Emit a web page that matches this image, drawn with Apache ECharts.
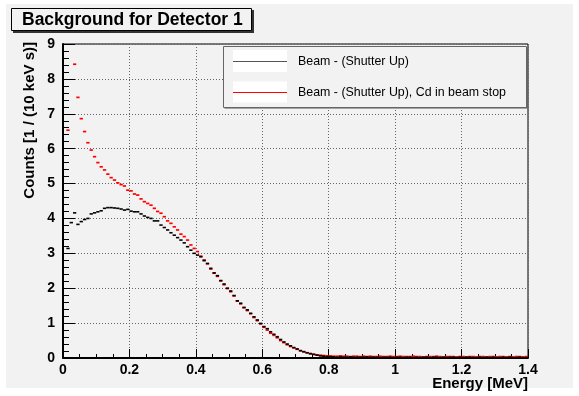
<!DOCTYPE html>
<html><head><meta charset="utf-8">
<script src="https://cdn.jsdelivr.net/npm/echarts@6/dist/echarts.min.js"></script>
<style>html,body{margin:0;padding:0;background:#fff;}#c{width:579px;height:396px;}</style>
</head><body><div id="c"></div>
<script>
// Bin width 10 keV, bins 0..139 covering 0 - 1.4 MeV
var binWidth = 0.01;
var xTicks = ["0","0.2","0.4","0.6","0.8","1","1.2","1.4"];
var yTicks = ["0","1","2","3","4","5","6","7","8","9"];
var seriesNames = ["Beam - (Shutter Up)", "Beam - (Shutter Up), Cd in beam stop"];

var shutterUp = [
 null,3.14,3.88,4.16,3.83,3.91,3.97,4.00,4.13,4.16,
 4.19,4.22,4.29,4.31,4.31,4.30,4.29,4.27,4.24,4.26,
 4.21,4.19,4.19,4.13,4.07,4.03,4.00,3.93,3.93,3.81,
 3.74,3.67,3.59,3.52,3.45,3.38,3.30,3.19,3.09,3.00,
 2.95,2.90,2.79,2.71,2.57,2.44,2.36,2.22,2.12,2.00,
 1.92,1.79,1.64,1.57,1.45,1.38,1.28,1.18,1.09,0.99,
 0.90,0.84,0.75,0.68,0.61,0.53,0.46,0.40,0.35,0.30,
 0.26,0.21,0.18,0.15,0.12,0.10,0.08,0.06,0.05,0.04,
 0.03,0.03,0.02,0.03,0.02,0.02,0.03,0.02,0.02,0.02,
 0.02,0.03,0.02,0.02,0.02,0.01,0.02,0.02,0.02,0.01,
 0.02,0.02,0.01,0.02,0.02,0.01,0.02,0.01,0.02,0.02,
 0.01,0.02,0.02,0.01,0.02,0.01,0.02,0.02,0.01,0.02,
 0.01,0.02,0.02,0.01,0.01,0.02,0.01,0.02,0.01,0.02,
 0.01,0.01,0.02,0.01,0.02,0.01,0.01,0.02,0.01,0.01
];
var shutterUpCd = [
 null,6.53,null,8.42,7.47,6.86,6.49,6.17,5.96,5.77,
 5.60,5.48,5.39,5.27,5.17,5.10,5.02,4.97,4.93,4.81,
 4.79,4.70,4.67,4.56,4.48,4.43,4.38,4.29,4.20,4.15,
 4.05,3.93,3.86,3.76,3.67,3.55,3.48,3.38,3.24,3.14,
 3.05,2.92,2.81,2.70,2.55,2.43,2.34,2.21,2.10,1.99,
 1.90,1.78,1.63,1.55,1.44,1.36,1.27,1.16,1.07,0.98,
 0.88,0.80,0.71,0.65,0.58,0.50,0.44,0.38,0.33,0.29,
 0.25,0.21,0.18,0.15,0.13,0.11,0.09,0.08,0.07,0.06,
 0.06,0.05,0.05,0.06,0.05,0.05,0.04,0.05,0.05,0.04,
 0.05,0.04,0.05,0.04,0.04,0.05,0.04,0.04,0.05,0.04,
 0.04,0.05,0.04,0.04,0.04,0.05,0.04,0.04,0.03,0.04,
 0.04,0.04,0.05,0.04,0.03,0.04,0.04,0.04,0.03,0.04,
 0.04,0.03,0.04,0.04,0.03,0.04,0.04,0.03,0.04,0.04,
 0.03,0.04,0.04,0.03,0.04,0.03,0.04,0.04,0.03,0.04
];

function toPoints(arr){
  var out = [];
  for (var i = 0; i < arr.length; i++) {
    if (arr[i] !== null) out.push([(i + 0.5) * binWidth, arr[i]]);
  }
  return out;
}

var FONT = "'Liberation Sans', Arial, Helvetica, sans-serif";
var BG = '#f2f2f2';
var chart = echarts.init(document.getElementById('c'), null, {renderer:'canvas'});
chart.setOption({
  backgroundColor: '#ffffff',
  animation: false,
  grid: {left: 63, right: 51, top: 44, bottom: 38, show: true, borderColor: '#000', borderWidth: 1, backgroundColor: 'transparent'},
  xAxis: {
    type: 'value', min: 0, max: 1.4, interval: 0.2,
    axisLine: {show: true, lineStyle: {color: '#000', width: 2}},
    axisTick: {show: true, inside: true, length: 9, lineStyle: {color: '#000', width: 1}},
    minorTick: {show: true, splitNumber: 4, length: 4, lineStyle: {color: '#000', width: 1}},
    splitLine: {show: true, lineStyle: {color: '#666', type: [1, 2], width: 1}},
    axisLabel: {color: '#000', fontFamily: FONT, fontWeight: 'bold', fontSize: 14, margin: 5,
      formatter: function(v){ return xTicks[Math.round(v / 0.2)]; }}
  },
  yAxis: {
    type: 'value', min: 0, max: 9, interval: 1,
    axisLine: {show: true, lineStyle: {color: '#000', width: 2}},
    axisTick: {show: true, inside: true, length: 12, lineStyle: {color: '#000', width: 1}},
    minorTick: {show: true, splitNumber: 5, length: 6, lineStyle: {color: '#000', width: 1}},
    splitLine: {show: true, lineStyle: {color: '#666', type: [1, 2], width: 1}},
    axisLabel: {color: '#000', fontFamily: FONT, fontWeight: 'bold', fontSize: 14, margin: 8,
      formatter: function(v){ return yTicks[Math.round(v)]; }}
  },
  series: [
    {name: seriesNames[1], type: 'scatter', data: toPoints(shutterUpCd), symbol: 'rect', symbolSize: [3.3, 1.7],
     itemStyle: {color: '#ff0000', opacity: 1}, clip: true, z: 3},
    {name: seriesNames[0], type: 'scatter', data: toPoints(shutterUp), symbol: 'rect', symbolSize: [3.3, 1.6],
     itemStyle: {color: '#000000', opacity: 1}, clip: true, z: 4}
  ],
  graphic: [
    {type: 'rect', z: -100, shape: {x: 6, y: 4, width: 567, height: 384}, style: {fill: BG}},
    // title box
    {type: 'rect', z: 50, shape: {x: 13, y: 10, width: 241, height: 23}, style: {fill: '#333'}},
    {type: 'rect', z: 51, shape: {x: 11.5, y: 8.5, width: 240, height: 22}, style: {fill: BG, stroke: '#000', lineWidth: 1}},
    {type: 'text', z: 52, x: 22, y: 20, style: {text: 'Background for Detector 1', font: 'bold 17.5px ' + FONT, fill: '#000', textVerticalAlign: 'middle'}},
    // legend
    {type: 'rect', z: 50, shape: {x: 224.5, y: 47.5, width: 303, height: 61}, style: {fill: '#555'}},
    {type: 'rect', z: 51, shape: {x: 223.5, y: 46.5, width: 303, height: 61}, style: {fill: BG, stroke: '#666', lineWidth: 1}},
    {type: 'rect', z: 52, shape: {x: 233, y: 50, width: 54, height: 22}, style: {fill: '#fff'}},
    {type: 'rect', z: 52, shape: {x: 233, y: 81.5, width: 54, height: 21}, style: {fill: '#fff'}},
    {type: 'line', z: 53, shape: {x1: 233, y1: 61.5, x2: 287, y2: 61.5}, style: {stroke: '#555', lineWidth: 1}},
    {type: 'line', z: 53, shape: {x1: 233, y1: 92.5, x2: 287, y2: 92.5}, style: {stroke: '#ff0000', lineWidth: 1}},
    {type: 'text', z: 53, x: 298, y: 62, style: {text: seriesNames[0], font: '12.4px ' + FONT, fill: '#000', textVerticalAlign: 'middle'}},
    {type: 'text', z: 53, x: 298, y: 93, style: {text: seriesNames[1], font: '12.4px ' + FONT, fill: '#000', textVerticalAlign: 'middle'}},
    // axis titles
    {type: 'text', z: 53, x: 528, y: 384, style: {text: 'Energy [MeV]', font: 'bold 15px ' + FONT, fill: '#000', textAlign: 'right', textVerticalAlign: 'middle'}},
    {type: 'text', z: 53, x: 30, y: 42, rotation: Math.PI / 2, style: {text: 'Counts [1 / (10 keV s)]', font: 'bold 15px ' + FONT, fill: '#000', textAlign: 'right', textVerticalAlign: 'middle'}}
  ]
});
</script></body></html>
